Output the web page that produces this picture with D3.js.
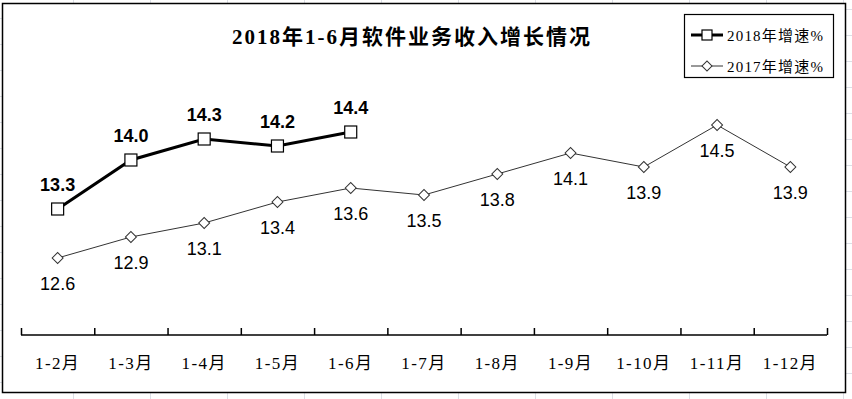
<!DOCTYPE html>
<html>
<head>
<meta charset="utf-8">
<script src="https://cdn.jsdelivr.net/npm/d3@7/dist/d3.min.js"></script>
<style>
  body { margin: 0; background: #fff; }
  svg { display: block; }
</style>
</head>
<body>
<div class="chart"></div>
<script>
// data
const months = ["1-2月", "1-3月", "1-4月", "1-5月", "1-6月", "1-7月", "1-8月", "1-9月", "1-10月", "1-11月", "1-12月"];
const growth2018 = [13.3, 14.0, 14.3, 14.2, 14.4];
const growth2017 = [12.6, 12.9, 13.1, 13.4, 13.6, 13.5, 13.8, 14.1, 13.9, 14.5, 13.9];
const seriesNames = ["2018年增速%", "2017年增速%"];
const title = "2018年1-6月软件业务收入增长情况";

const W = 852, H = 399;
const serif = "'Liberation Serif', 'Noto Sans CJK SC', serif";
const sans = "'Liberation Sans', Arial, sans-serif";

const svg = d3.select(".chart").append("svg")
  .attr("width", W)
  .attr("height", H);

// faint sheet grid that shows round the frame
const grid = svg.append("g").attr("stroke", "#dcdfe6").attr("stroke-width", 1);
d3.range(73, W, 77).forEach(x => {
  grid.append("line").attr("x1", x + 0.5).attr("x2", x + 0.5).attr("y1", 0).attr("y2", H);
});
d3.range(18, H, 26).forEach(y => {
  grid.append("line").attr("x1", 0).attr("x2", 10).attr("y1", y + 0.5).attr("y2", y + 0.5);
});
d3.range(9, H, 26).forEach(y => {
  grid.append("line").attr("x1", 840).attr("x2", W).attr("y1", y + 0.5).attr("y2", y + 0.5);
});
grid.append("line").attr("x1", 843.5).attr("x2", 843.5).attr("y1", 0).attr("y2", H);

// chart frame
svg.append("rect")
  .attr("x", 2.5).attr("y", 3.5)
  .attr("width", 843).attr("height", 389)
  .attr("fill", "#fff")
  .attr("stroke", "#000")
  .attr("stroke-width", 1.5);

// scales
const x = d3.scaleBand()
  .domain(months)
  .range([21, 827])
  .padding(0);

const y = d3.scaleLinear()
  .domain([11.5, 16])
  .range([335, 20]);

const cx = (d, i) => x(months[i]) + x.bandwidth() / 2;

// title
svg.append("text")
  .attr("x", 412)
  .attr("y", 44)
  .attr("text-anchor", "middle")
  .style("font-family", serif)
  .style("font-size", "21px")
  .style("font-weight", "bold")
  .style("letter-spacing", "2px")
  .text(title);

// x axis: boundary ticks pointing up
const edges = d3.scaleLinear().domain([0, months.length]).range([21, 827]);
svg.append("g")
  .attr("transform", "translate(0,335)")
  .call(d3.axisBottom(edges).ticks(months.length).tickSize(-7).tickSizeOuter(0).tickFormat(""))
  .call(g => g.select(".domain").attr("stroke-width", 1.5).attr("d", "M21,0H827"))
  .call(g => g.selectAll(".tick line").attr("stroke-width", 1.5));

// category labels
svg.append("g")
  .selectAll("text")
  .data(months)
  .join("text")
    .attr("x", d => x(d) + x.bandwidth() / 2)
    .attr("y", 369)
    .attr("text-anchor", "middle")
    .style("font-family", serif)
    .style("font-size", "17px")
    .style("letter-spacing", "1.4px")
    .text(d => d);

const line = d3.line().x(cx).y(d => y(d));

// 2017 series (thin line, diamonds, labels below)
svg.append("path")
  .datum(growth2017)
  .attr("d", line)
  .attr("fill", "none")
  .attr("stroke", "#333")
  .attr("stroke-width", 1);

const diamond = d3.symbol().type(d3.symbolSquare).size(60);
svg.append("g")
  .selectAll("path")
  .data(growth2017)
  .join("path")
    .attr("d", diamond)
    .attr("transform", (d, i) => `translate(${cx(d, i)},${y(d)}) rotate(45)`)
    .attr("fill", "#fff")
    .attr("stroke", "#333")
    .attr("stroke-width", 1);

svg.append("g")
  .selectAll("text")
  .data(growth2017)
  .join("text")
    .attr("x", cx)
    .attr("y", d => y(d) + 32)
    .attr("text-anchor", "middle")
    .style("font-family", sans)
    .style("font-size", "18px")
    .text(d => d.toFixed(1));

// 2018 series (thick line, squares, bold labels above)
svg.append("path")
  .datum(growth2018)
  .attr("d", line)
  .attr("fill", "none")
  .attr("stroke", "#000")
  .attr("stroke-width", 3);

svg.append("g")
  .selectAll("rect")
  .data(growth2018)
  .join("rect")
    .attr("x", (d, i) => cx(d, i) - 6)
    .attr("y", d => y(d) - 6)
    .attr("width", 12)
    .attr("height", 12)
    .attr("fill", "#fff")
    .attr("stroke", "#000")
    .attr("stroke-width", 1.2);

svg.append("g")
  .selectAll("text")
  .data(growth2018)
  .join("text")
    .attr("x", cx)
    .attr("y", d => y(d) - 18)
    .attr("text-anchor", "middle")
    .style("font-family", sans)
    .style("font-size", "18px")
    .style("font-weight", "bold")
    .text(d => d.toFixed(1));

// legend
const legend = svg.append("g");
legend.append("rect")
  .attr("x", 684.5).attr("y", 14.5)
  .attr("width", 149).attr("height", 63)
  .attr("fill", "#fff")
  .attr("stroke", "#000")
  .attr("stroke-width", 1.2);

const rows = legend.selectAll("g")
  .data(seriesNames)
  .join("g")
    .attr("transform", (d, i) => `translate(0,${i === 0 ? 35 : 66})`);

rows.append("line")
  .attr("x1", 691).attr("x2", 723)
  .attr("stroke", (d, i) => i === 0 ? "#000" : "#333")
  .attr("stroke-width", (d, i) => i === 0 ? 3 : 1);

rows.each(function(d, i) {
  const g = d3.select(this);
  if (i === 0) {
    g.append("rect")
      .attr("x", 702).attr("y", -5)
      .attr("width", 10).attr("height", 10)
      .attr("fill", "#fff").attr("stroke", "#000").attr("stroke-width", 1.2);
  } else {
    g.append("path")
      .attr("d", d3.symbol().type(d3.symbolSquare).size(50))
      .attr("transform", "translate(707,0) rotate(45)")
      .attr("fill", "#fff").attr("stroke", "#333").attr("stroke-width", 1);
  }
});

rows.append("text")
  .attr("x", 727)
  .attr("y", 6)
  .style("font-family", serif)
  .style("font-size", "15px")
  .style("letter-spacing", "1.2px")
  .text(d => d);
</script>
</body>
</html>
